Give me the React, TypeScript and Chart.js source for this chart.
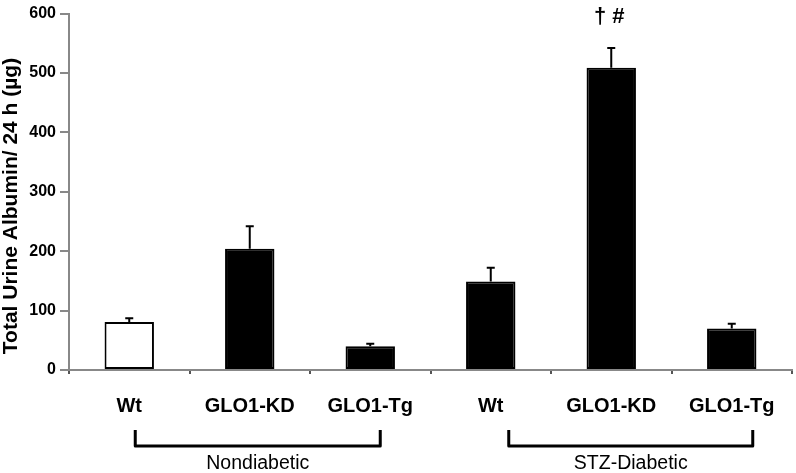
import React, { useEffect, useRef } from "react";
import { Chart, registerables } from "chart.js";

Chart.register(...registerables);

const categories = ["Wt", "GLO1-KD", "GLO1-Tg", "Wt", "GLO1-KD", "GLO1-Tg"];
const values = [81, 204, 40, 149, 509, 70];
const errors = [6, 38, 4, 23, 33, 8];
const barFill = ["#ffffff", "#000000", "#000000", "#000000", "#000000", "#000000"];
const groups = [
  { label: "Nondiabetic", from: 0, to: 2 },
  { label: "STZ-Diabetic", from: 3, to: 5 },
];
const annotationText = "\u2020 #";
const annotationIndex = 4;
const yTitle = "Total Urine Albumin/ 24 h (\u00b5g)";

const FONT = "Arial, 'Liberation Sans', Helvetica, sans-serif";
const bracketOffsets = [
  [6, 10],
  [18, 21],
];

const extrasPlugin = {
  id: "extras",
  afterDatasetsDraw(chart: any) {
    const ctx = chart.ctx;
    const meta = chart.getDatasetMeta(0);
    const y = chart.scales.y;
    ctx.save();
    ctx.strokeStyle = "#000";
    ctx.lineWidth = 2;
    meta.data.forEach((bar: any, i: number) => {
      const top = y.getPixelForValue(values[i] + errors[i]);
      const base = y.getPixelForValue(values[i]);
      ctx.beginPath();
      ctx.moveTo(bar.x, base);
      ctx.lineTo(bar.x, top);
      ctx.moveTo(bar.x - 4, top);
      ctx.lineTo(bar.x + 4, top);
      ctx.stroke();
    });
    const ab = meta.data[annotationIndex];
    ctx.fillStyle = "#000";
    ctx.font = "bold 22px " + FONT;
    ctx.textAlign = "center";
    ctx.textBaseline = "middle";
    ctx.fillText(annotationText, ab.x - 2, 17);
    ctx.restore();
  },
  afterDraw(chart: any) {
    const ctx = chart.ctx;
    const meta = chart.getDatasetMeta(0);
    const area = chart.chartArea;
    ctx.save();
    // y title
    ctx.save();
    ctx.translate(11, 206);
    ctx.rotate(-Math.PI / 2);
    ctx.fillStyle = "#000";
    ctx.font = "bold 21px " + FONT;
    ctx.textAlign = "center";
    ctx.textBaseline = "middle";
    ctx.fillText(yTitle, 0, 0);
    ctx.restore();
    // brackets
    ctx.strokeStyle = "#000";
    ctx.lineWidth = 3;
    ctx.lineJoin = "round";
    groups.forEach((g, gi) => {
      const x0 = meta.data[g.from].x + bracketOffsets[gi][0];
      const x1 = meta.data[g.to].x + bracketOffsets[gi][1];
      ctx.beginPath();
      ctx.moveTo(x0, 430);
      ctx.lineTo(x0, 446);
      ctx.lineTo(x1, 446);
      ctx.lineTo(x1, 430);
      ctx.stroke();
      ctx.fillStyle = "#000";
      ctx.font = "19.5px " + FONT;
      ctx.textAlign = "center";
      ctx.textBaseline = "middle";
      ctx.fillText(g.label, (x0 + x1) / 2, 464);
    });
    ctx.restore();
  },
};

export default function App() {
  const ref = useRef<HTMLCanvasElement>(null);
  useEffect(() => {
    document.body.style.margin = "0";
    const chart = new Chart(ref.current!, {
      type: "bar",
      data: {
        labels: categories,
        datasets: [
          {
            data: values,
            backgroundColor: barFill,
            borderColor: "#000",
            borderWidth: 2,
            borderSkipped: false,
            barPercentage: 0.41,
            categoryPercentage: 1,
          },
        ],
      },
      options: {
        animation: false,
        responsive: false,
        maintainAspectRatio: false,
        layout: { padding: { top: 8, right: 4, left: 0, bottom: 0 } },
        plugins: { legend: { display: false }, tooltip: { enabled: false } },
        scales: {
          x: {
            afterFit(scale: any) {
              scale.height = 103;
            },
            grid: {
              offset: true,
              drawOnChartArea: false,
              drawTicks: true,
              tickLength: 4,
              color: "#555",
              lineWidth: 2,
            },
            border: { color: "#888", width: 2 },
            ticks: {
              color: "#000",
              font: { family: FONT, size: 20, weight: "bold" },
              padding: 20,
              maxRotation: 0,
            },
          },
          y: {
            min: 0,
            max: 600,
            afterFit(scale: any) {
              scale.width = 69;
            },
            grid: {
              drawOnChartArea: false,
              drawTicks: true,
              tickLength: 9,
              color: "#888",
              lineWidth: 2,
            },
            border: { color: "#888", width: 2 },
            ticks: {
              stepSize: 100,
              color: "#000",
              padding: 4,
              font: { family: FONT, size: 16, weight: "bold" },
            },
            title: { display: false },
          },
        },
      },
      plugins: [extrasPlugin],
    } as any);
    return () => chart.destroy();
  }, []);
  return (
    <div style={{ width: 796, height: 473 }}>
      <canvas ref={ref} width={796} height={473} style={{ display: "block", width: 796, height: 473 }} />
    </div>
  );
}
